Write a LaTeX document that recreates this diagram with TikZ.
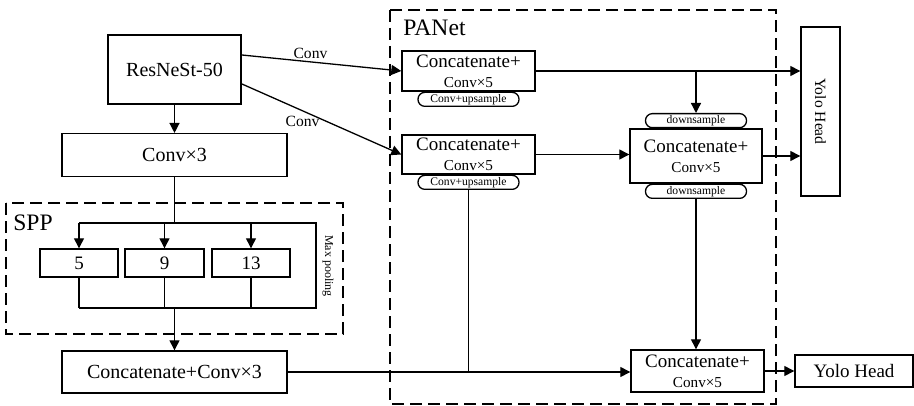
\documentclass[tikz,border=0pt]{standalone}
\usepackage{fontspec}
\setmainfont{Liberation Serif}
\usetikzlibrary{positioning, arrows.meta}

\begin{document}
\begin{tikzpicture}[
    x=0.5pt, y=-0.5pt,
    baseblock/.style={
        rectangle,
        draw=black,
        line width=0.7pt,
        inner sep=1pt,
        align=center,
        font=\fontsize{10}{12}\selectfont
    },
    panblock/.style={baseblock, minimum width=66.5pt, font=\fontsize{9.5}{10}\selectfont},
    poolblock/.style={baseblock, minimum width=39pt, minimum height=14pt, font=\fontsize{9.5}{11}\selectfont},
    pill/.style={
        rectangle,
        rounded corners=3.4pt,
        draw=black,
        line width=0.65pt,
        minimum width=50.5pt,
        minimum height=7pt,
        inner sep=0pt,
        font=\fontsize{5.8}{6}\selectfont
    },
    groupbox/.style={draw=black, line width=1pt, dash pattern=on 6pt off 3pt},
    grouplabel/.style={font=\fontsize{11.8}{13}\selectfont, inner sep=0pt},
    smalllabel/.style={font=\fontsize{7.8}{9}\selectfont, inner sep=1.5pt},
    linestyle/.style={draw=black, line width=0.65pt},
    arrowstyle/.style={linestyle, -{Triangle[length=5pt, width=5pt]}}
]
    \useasboundingbox (0,0) rectangle (914,406);

    % --- Backbone and SPP ---

    % Nodes
    \node[baseblock, line width=0.95pt, minimum width=66.5pt, minimum height=34.5pt] (res) at (174.5,69.5) {ResNeSt-50};
    \node[baseblock, minimum width=112.5pt, minimum height=21.5pt, below=14pt of res] (conv3) {Conv×3};

    \draw[groupbox] (6,203) rectangle (343,334);
    \node[grouplabel] (spplabel) at (33,223) {SPP};

    \node[poolblock] (pool5) at (79,263) {5};
    \node[poolblock, minimum width=39.5pt] (pool9) at (164.5,263) {9};
    \node[poolblock] (pool13) at (251,263) {13};
    \node[smalllabel, rotate=-90, font=\fontsize{6}{7}\selectfont] (maxpool) at (328,266) {Max pooling};

    \node[baseblock, minimum width=112.5pt, minimum height=21pt] (concat3) at (174.5,372) {Concatenate+Conv×3};

    % Split and merge points
    \coordinate (sppin) at (174.5,223);
    \coordinate (sppout) at (174.5,308);
    \coordinate (spptr) at (316,223);
    \coordinate (sppbr) at (316,308);

    % Arrows
    \draw[arrowstyle] (res) -- (conv3);
    \draw[linestyle] (conv3.south) -- (sppin);
    \draw[linestyle] (pool5.north |- sppin) -- (spptr) -- (sppbr) -- (pool5.south |- sppbr);
    \foreach \pool in {pool5, pool9, pool13} {
        \draw[arrowstyle] (\pool.north |- sppin) -- (\pool.north);
        \draw[linestyle] (\pool.south) -- (\pool.south |- sppout);
    }
    \draw[arrowstyle] (sppout) -- (concat3.north);


    % --- PANet ---

    \draw[groupbox] (390,10) rectangle (776,404);
    \node[grouplabel] (panlabel) at (434.5,28) {PANet};

    % Nodes
    \node[panblock, minimum height=20pt] (p1) at (468.5,71) {Concatenate+\\{\fontsize{7.6}{9}\selectfont Conv×5}};
    \node[pill, below=0pt of p1] (up1) {Conv+upsample};

    \node[panblock, minimum height=19.5pt] (p2) at (468.5,154.5) {Concatenate+\\{\fontsize{7.6}{9}\selectfont Conv×5}};
    \node[pill, below=0pt of p2] (up2) {Conv+upsample};

    \node[panblock, minimum width=66pt, minimum height=27pt] (p3) at (696,156) {Concatenate+\\{\fontsize{7.6}{9}\selectfont Conv×5}};
    \node[pill, above=0pt of p3] (ds1) {downsample};
    \node[pill, below=0pt of p3] (ds2) {downsample};

    \node[panblock, minimum height=21pt] (p4) at (697.5,371) {Concatenate+\\{\fontsize{7.6}{9}\selectfont Conv×5}};

    % Heads
    \node[baseblock, minimum width=19.5pt, minimum height=84.5pt] (yolo1) at (820.5,111.5) {};
    \node[rotate=-90, font=\fontsize{7.8}{9}\selectfont] (yolo1text) at (yolo1) {Yolo Head};
    \node[baseblock, minimum width=59pt, minimum height=16pt, font=\fontsize{9.5}{11}\selectfont] (yolo2) at (854,371) {Yolo Head};

    % Arrows
    \draw[arrowstyle] ([yshift=7.25pt]res.east) -- node[smalllabel, pos=0.43, above] {Conv} (p1.west);
    \draw[arrowstyle] ([yshift=-7.25pt]res.east) -- node[smalllabel, pos=0.38, below=1pt] {Conv} (p2.west);

    \draw[arrowstyle] (p1.east) -- (p1.east -| yolo1.west);
    \draw[arrowstyle] (ds1.north |- p1.east) -- (ds1.north);
    \draw[arrowstyle] (p2.east) -- (p2.east -| p3.west);
    \draw[arrowstyle] (p3.east) -- (p3.east -| yolo1.west);
    \draw[arrowstyle] (ds2.south) -- (ds2.south |- p4.north);

    \draw[linestyle] (up2.south) -- (up2.south |- concat3.east);
    \draw[arrowstyle] (concat3.east) -- (concat3.east -| p4.west);
    \draw[arrowstyle] (p4.east) -- (p4.east -| yolo2.west);

\end{tikzpicture}
\end{document}
